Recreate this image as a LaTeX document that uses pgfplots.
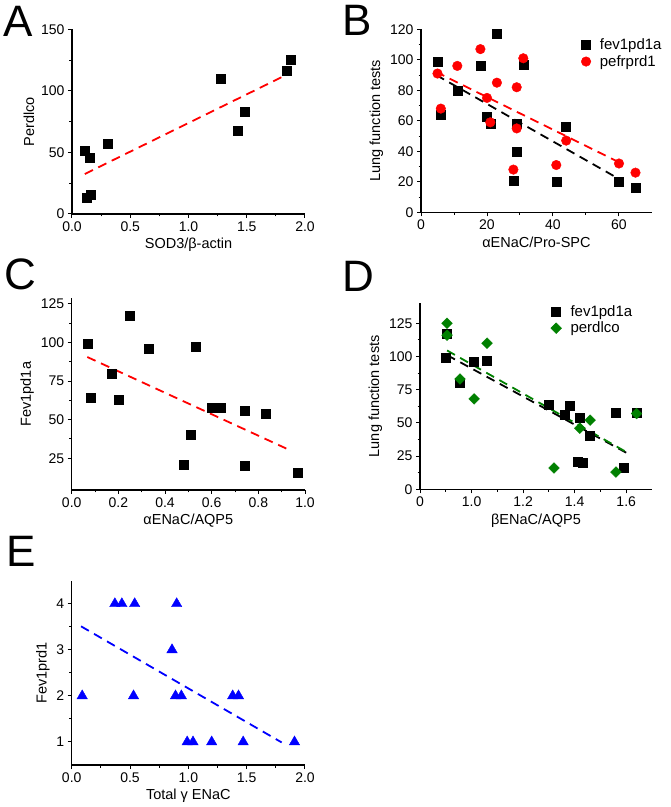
\documentclass[border=0pt]{standalone}
\usepackage{fontspec}
\setmainfont{Liberation Sans}
\usepackage{pgfplots}
\pgfplotsset{compat=1.18}

\definecolor{ptred}{RGB}{255,0,0}
\definecolor{ptgreen}{RGB}{0,128,0}
\definecolor{ptblue}{RGB}{0,0,255}

\pgfplotsset{
  panel/.style={
    scale only axis,
    anchor=south west,
    axis lines*=left,
    tick align=outside,
    minor tick num=1,
    major tick length=4pt,
    minor tick length=2.5pt,
    tick style={black, line width=1pt},
    axis line style={line width=1.3pt},
    tick label style={font=\fontsize{14}{16}\selectfont},
    label style={font=\fontsize{14.5}{17}\selectfont},
    /pgf/number format/assume math mode=true,
    clip=false,
  },
  onedec/.style={
    xticklabel style={/pgf/number format/fixed,
      /pgf/number format/fixed zerofill,
      /pgf/number format/precision=1},
  },
  fit/.style={no markers, line width=1.8pt, dash pattern=on 9pt off 6pt, forget plot},
  sq/.style={only marks, mark=square*, mark size=4.5pt, mark options={draw=black, fill=black}},
  legend style={draw=none, fill=none, font=\fontsize{15}{17}\selectfont,
    row sep=0pt, cells={anchor=west},
    /tikz/every odd column/.append style={column sep=7pt}},
}

\begin{document}
\begin{tikzpicture}
\path[use as bounding box] (0,0) rectangle (671pt,807pt);

% ---------- A
\begin{axis}[panel, onedec, at={(72pt,593pt)}, width=233pt, height=184.7pt,
  xmin=0, xmax=2, ymin=0, ymax=150,
  xtick={0,0.5,1,1.5,2}, ytick={0,50,100,150},
  xlabel={SOD3/β-actin}, ylabel={Perdlco}]
\addplot[sq] coordinates {
  (0.11,51) (0.15,46) (0.13,13) (0.16,16) (0.31,57)
  (1.28,110) (1.42,68) (1.48,83) (1.84,116) (1.88,125)};
\addplot[fit, ptred] coordinates {(0.11,32.5) (1.84,113)};
\end{axis}

% ---------- B
\begin{axis}[panel, at={(421pt,594.7pt)}, width=231pt, height=183pt,
  xmin=0, xmax=70, ymin=0, ymax=120,
  xtick={0,20,40,60}, ytick={0,20,...,120},
  xlabel={αENaC/Pro-SPC}, ylabel={Lung function tests},
  legend style={at={(0.68,0.97)}, anchor=north west}]
\addplot[sq] coordinates {
  (5,99) (6,64) (11,80) (18,96) (20,63) (21,58) (23,117) (31,97)
  (29,58) (29,40) (28,21) (41,20) (44,56) (60,20) (65,16)};
\addlegendentry{fev1pd1a}
\addplot[only marks, mark=*, mark size=4.8pt, mark options={draw=ptred, fill=ptred}] coordinates {
  (5,91) (6,68) (11,96) (18,107) (20,75) (21,59) (23,85) (29,82)
  (31,101) (29,55) (28,28) (41,31) (44,47) (60,32) (65,26)};
\addlegendentry{pefrprd1}
\addplot[fit, black] coordinates {(4.6,90) (60.3,21.5)};
\addplot[fit, ptred] coordinates {(4.6,92) (60.3,32.5)};
\end{axis}

% ---------- C
\begin{axis}[panel, onedec, at={(71.7pt,317pt)}, width=233.3pt, height=191.7pt,
  xmin=0, xmax=1, ymin=4.5, ymax=128.5,
  xtick={0,0.2,0.4,0.6,0.8,1}, ytick={25,50,75,100,125},
  xlabel={αENaC/AQP5}, ylabel={Fev1pd1a}]
\addplot[sq] coordinates {
  (0.07,99) (0.08,64) (0.17,80) (0.2,63) (0.25,117) (0.33,96)
  (0.53,97) (0.6,58) (0.64,58) (0.74,56) (0.83,54)
  (0.51,40) (0.48,21) (0.74,20) (0.97,16)};
\addplot[fit, ptred] coordinates {(0.067,90.5) (0.936,30.2)};
\end{axis}

% ---------- D
\begin{axis}[panel, at={(420pt,317.7pt)}, width=232pt, height=186pt,
  xmin=0.8, xmax=1.7, ymin=0, ymax=140,
  xtick={0.8,1.0,1.2,1.4,1.6}, xticklabels={0,1.0,1.2,1.4,1.6},
  ytick={0,25,50,75,100,125},
  xlabel={βENaC/AQP5}, ylabel={Lung function tests},
  legend style={at={(0.55,1.01)}, anchor=north west}]
\addplot[sq] coordinates {
  (0.90,99) (0.905,117) (0.955,80) (1.01,96) (1.06,97) (1.30,64)
  (1.36,56) (1.38,63) (1.42,54) (1.46,40) (1.56,58) (1.64,58)
  (1.41,21) (1.43,20) (1.59,16)};
\addlegendentry{fev1pd1a}
\addplot[only marks, mark=square*, mark size=3.8pt,
  mark options={rotate=45, draw=ptgreen, fill=ptgreen}] coordinates {
  (0.905,125) (0.905,116) (0.955,83) (1.01,68) (1.06,110)
  (1.42,46) (1.46,52) (1.64,57) (1.32,16) (1.56,13)};
\addlegendentry{perdlco}
\addplot[fit, black] coordinates {(0.905,101) (1.61,26.5)};
\addplot[fit, ptgreen] coordinates {(0.905,104.5) (1.61,27)};
\end{axis}

% ---------- E
\begin{axis}[panel, onedec, at={(71.7pt,42pt)}, width=233.3pt, height=184.3pt,
  xmin=0, xmax=2, ymin=0.5, ymax=4.5,
  xtick={0,0.5,1,1.5,2}, ytick={1,2,3,4},
  xlabel={Total γ ENaC}, ylabel={Fev1prd1}]
\addplot[only marks, mark=triangle*, mark size=6pt,
  mark options={draw=ptblue, fill=ptblue}] coordinates {
  (0.37,4) (0.43,4) (0.54,4) (0.90,4) (0.86,3)
  (0.09,2) (0.53,2) (0.89,2) (0.94,2) (1.38,2) (1.43,2)
  (0.99,1) (1.04,1) (1.20,1) (1.47,1) (1.91,1)};
\addplot[fit, ptblue] coordinates {(0.08,3.51) (1.8,0.99)};
\end{axis}

% panel letters
\begin{scope}[every node/.style={inner sep=0pt, anchor=base west, font=\fontsize{44}{44}\selectfont}]
\node at (3pt,770pt) {A};
\node at (342pt,771pt) {B};
\node at (4pt,517pt) {C};
\node at (342pt,515pt) {D};
\node at (6pt,240pt) {E};
\end{scope}
\end{tikzpicture}
\end{document}
